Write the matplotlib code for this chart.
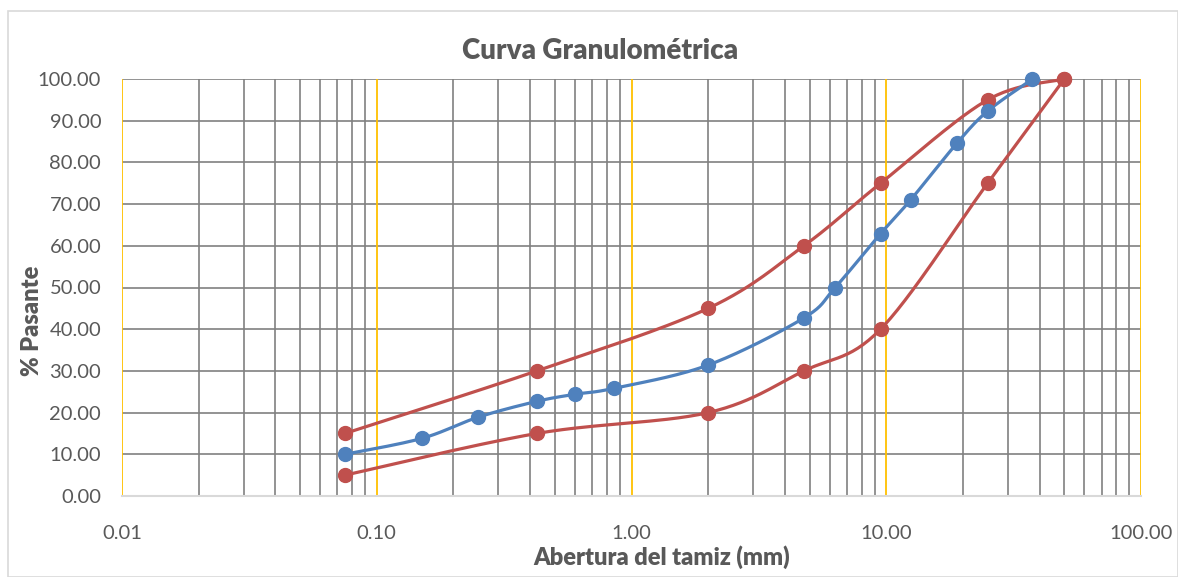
import numpy as np
import matplotlib
matplotlib.use('Agg')
import matplotlib.pyplot as plt
from matplotlib.patches import Rectangle
from matplotlib.ticker import FixedLocator, FixedFormatter, NullFormatter

# datos
abertura = [0.075, 0.15, 0.25, 0.425, 0.6, 0.85, 2.0, 4.75, 6.3, 9.5, 12.5, 19.0, 25.0, 37.5]
pasante = [10.0, 13.8, 18.9, 22.7, 24.4, 25.8, 31.4, 42.7, 50.0, 62.9, 71.1, 84.7, 92.3, 100.0]

abertura_lim = [0.075, 0.425, 2.0, 4.75, 9.5, 25.0, 50.0]
lim_superior = [15.0, 30.0, 45.0, 60.0, 75.0, 95.0, 100.0]
lim_inferior = [5.0, 15.0, 20.0, 30.0, 40.0, 75.0, 100.0]

xticks = [0.01, 0.1, 1, 10, 100]
xtick_labels = ['0.01', '0.10', '1.00', '10.00', '100.00']
yticks = [0, 10, 20, 30, 40, 50, 60, 70, 80, 90, 100]
ytick_labels = ['%.2f' % v for v in yticks]

plt.rcParams['font.family'] = ['Lato', 'DejaVu Sans']

W, H = 1178, 577
fig = plt.figure(figsize=(W / 100, H / 100), dpi=100)
ax = fig.add_axes([122 / W, 1 - 496 / H, (1141 - 122) / W, (496 - 79) / H])

# borde exterior del grafico
fig.patches.append(Rectangle((8 / W, 0), (W - 8) / W, 1 - 11 / H, transform=fig.transFigure,
                             fill=False, edgecolor='#D9D9D9', linewidth=1.2))

ax_w, ax_h = 1141 - 122, 496 - 79


def suavizar(xs, ys, n=30):
    # curva suavizada estilo Excel (bezier en coordenadas de pantalla)
    u = (np.log10(xs) + 2) / 4 * ax_w
    v = np.array(ys) / 100 * ax_h
    p = np.column_stack([u, v])
    pts = [p[0]]
    for i in range(len(p) - 1):
        p0 = p[i - 1] if i > 0 else p[i]
        p1 = p[i]
        p2 = p[i + 1]
        p3 = p[i + 2] if i + 2 < len(p) else p[i + 1]
        c1 = p1 + (p2 - p0) / 6
        c2 = p2 - (p3 - p1) / 6
        t = np.linspace(0, 1, n)[1:, None]
        b = (1 - t) ** 3 * p1 + 3 * (1 - t) ** 2 * t * c1 + 3 * (1 - t) * t ** 2 * c2 + t ** 3 * p2
        pts.extend(b)
    pts = np.array(pts)
    return 10 ** (pts[:, 0] / ax_w * 4 - 2), pts[:, 1] / ax_h * 100


ax.set_xscale('log')
ax.set_xlim(0.01, 100)
ax.set_ylim(0, 100)

# rejilla
for dec in [0.01, 0.1, 1, 10]:
    for k in range(2, 10):
        ax.axvline(dec * k, color='#808080', linewidth=1.2, zorder=1)
for d in xticks:
    ax.axvline(d, color='#FFC000', linewidth=1.3, zorder=1.5)
for yv in yticks[1:]:
    ax.axhline(yv, color='#808080', linewidth=1.2, zorder=1)

azul = '#4F81BD'
rojo = '#C0504D'
for xs, ys, c in [(abertura_lim, lim_superior, rojo), (abertura_lim, lim_inferior, rojo),
                  (abertura, pasante, azul)]:
    sx, sy = suavizar(xs, ys)
    ax.plot(sx, sy, color=c, linewidth=2.3, zorder=3, clip_on=False, solid_capstyle='round')
    ax.plot(xs, ys, 'o', color=c, markersize=10, zorder=4, clip_on=False)

ax.xaxis.set_major_locator(FixedLocator(xticks))
ax.xaxis.set_major_formatter(FixedFormatter(xtick_labels))
ax.xaxis.set_minor_formatter(NullFormatter())
ax.yaxis.set_major_locator(FixedLocator(yticks))
ax.yaxis.set_major_formatter(FixedFormatter(ytick_labels))
ax.tick_params(axis='both', which='both', length=0, labelsize=14.5, colors='#595959')
ax.tick_params(axis='x', pad=21)
ax.tick_params(axis='y', pad=15)

for s in ['top', 'right', 'left']:
    ax.spines[s].set_visible(False)
ax.spines['bottom'].set_color('#D9D9D9')
ax.spines['bottom'].set_linewidth(1.5)
ax.spines['bottom'].set_zorder(2)

fig.text(600 / W, 1 - 51 / H, 'Curva Granulométrica', fontsize=20, fontweight='heavy',
         color='#595959', ha='center', va='center')
fig.text(662 / W, 1 - 557 / H, 'Abertura del tamiz (mm)', fontsize=17, fontweight='heavy',
         color='#595959', ha='center', va='center')
fig.text(32 / W, 1 - 321 / H, '% Pasante', fontsize=17, fontweight='heavy',
         color='#595959', ha='center', va='center', rotation=90)

fig.savefig('out.png', dpi=100)
